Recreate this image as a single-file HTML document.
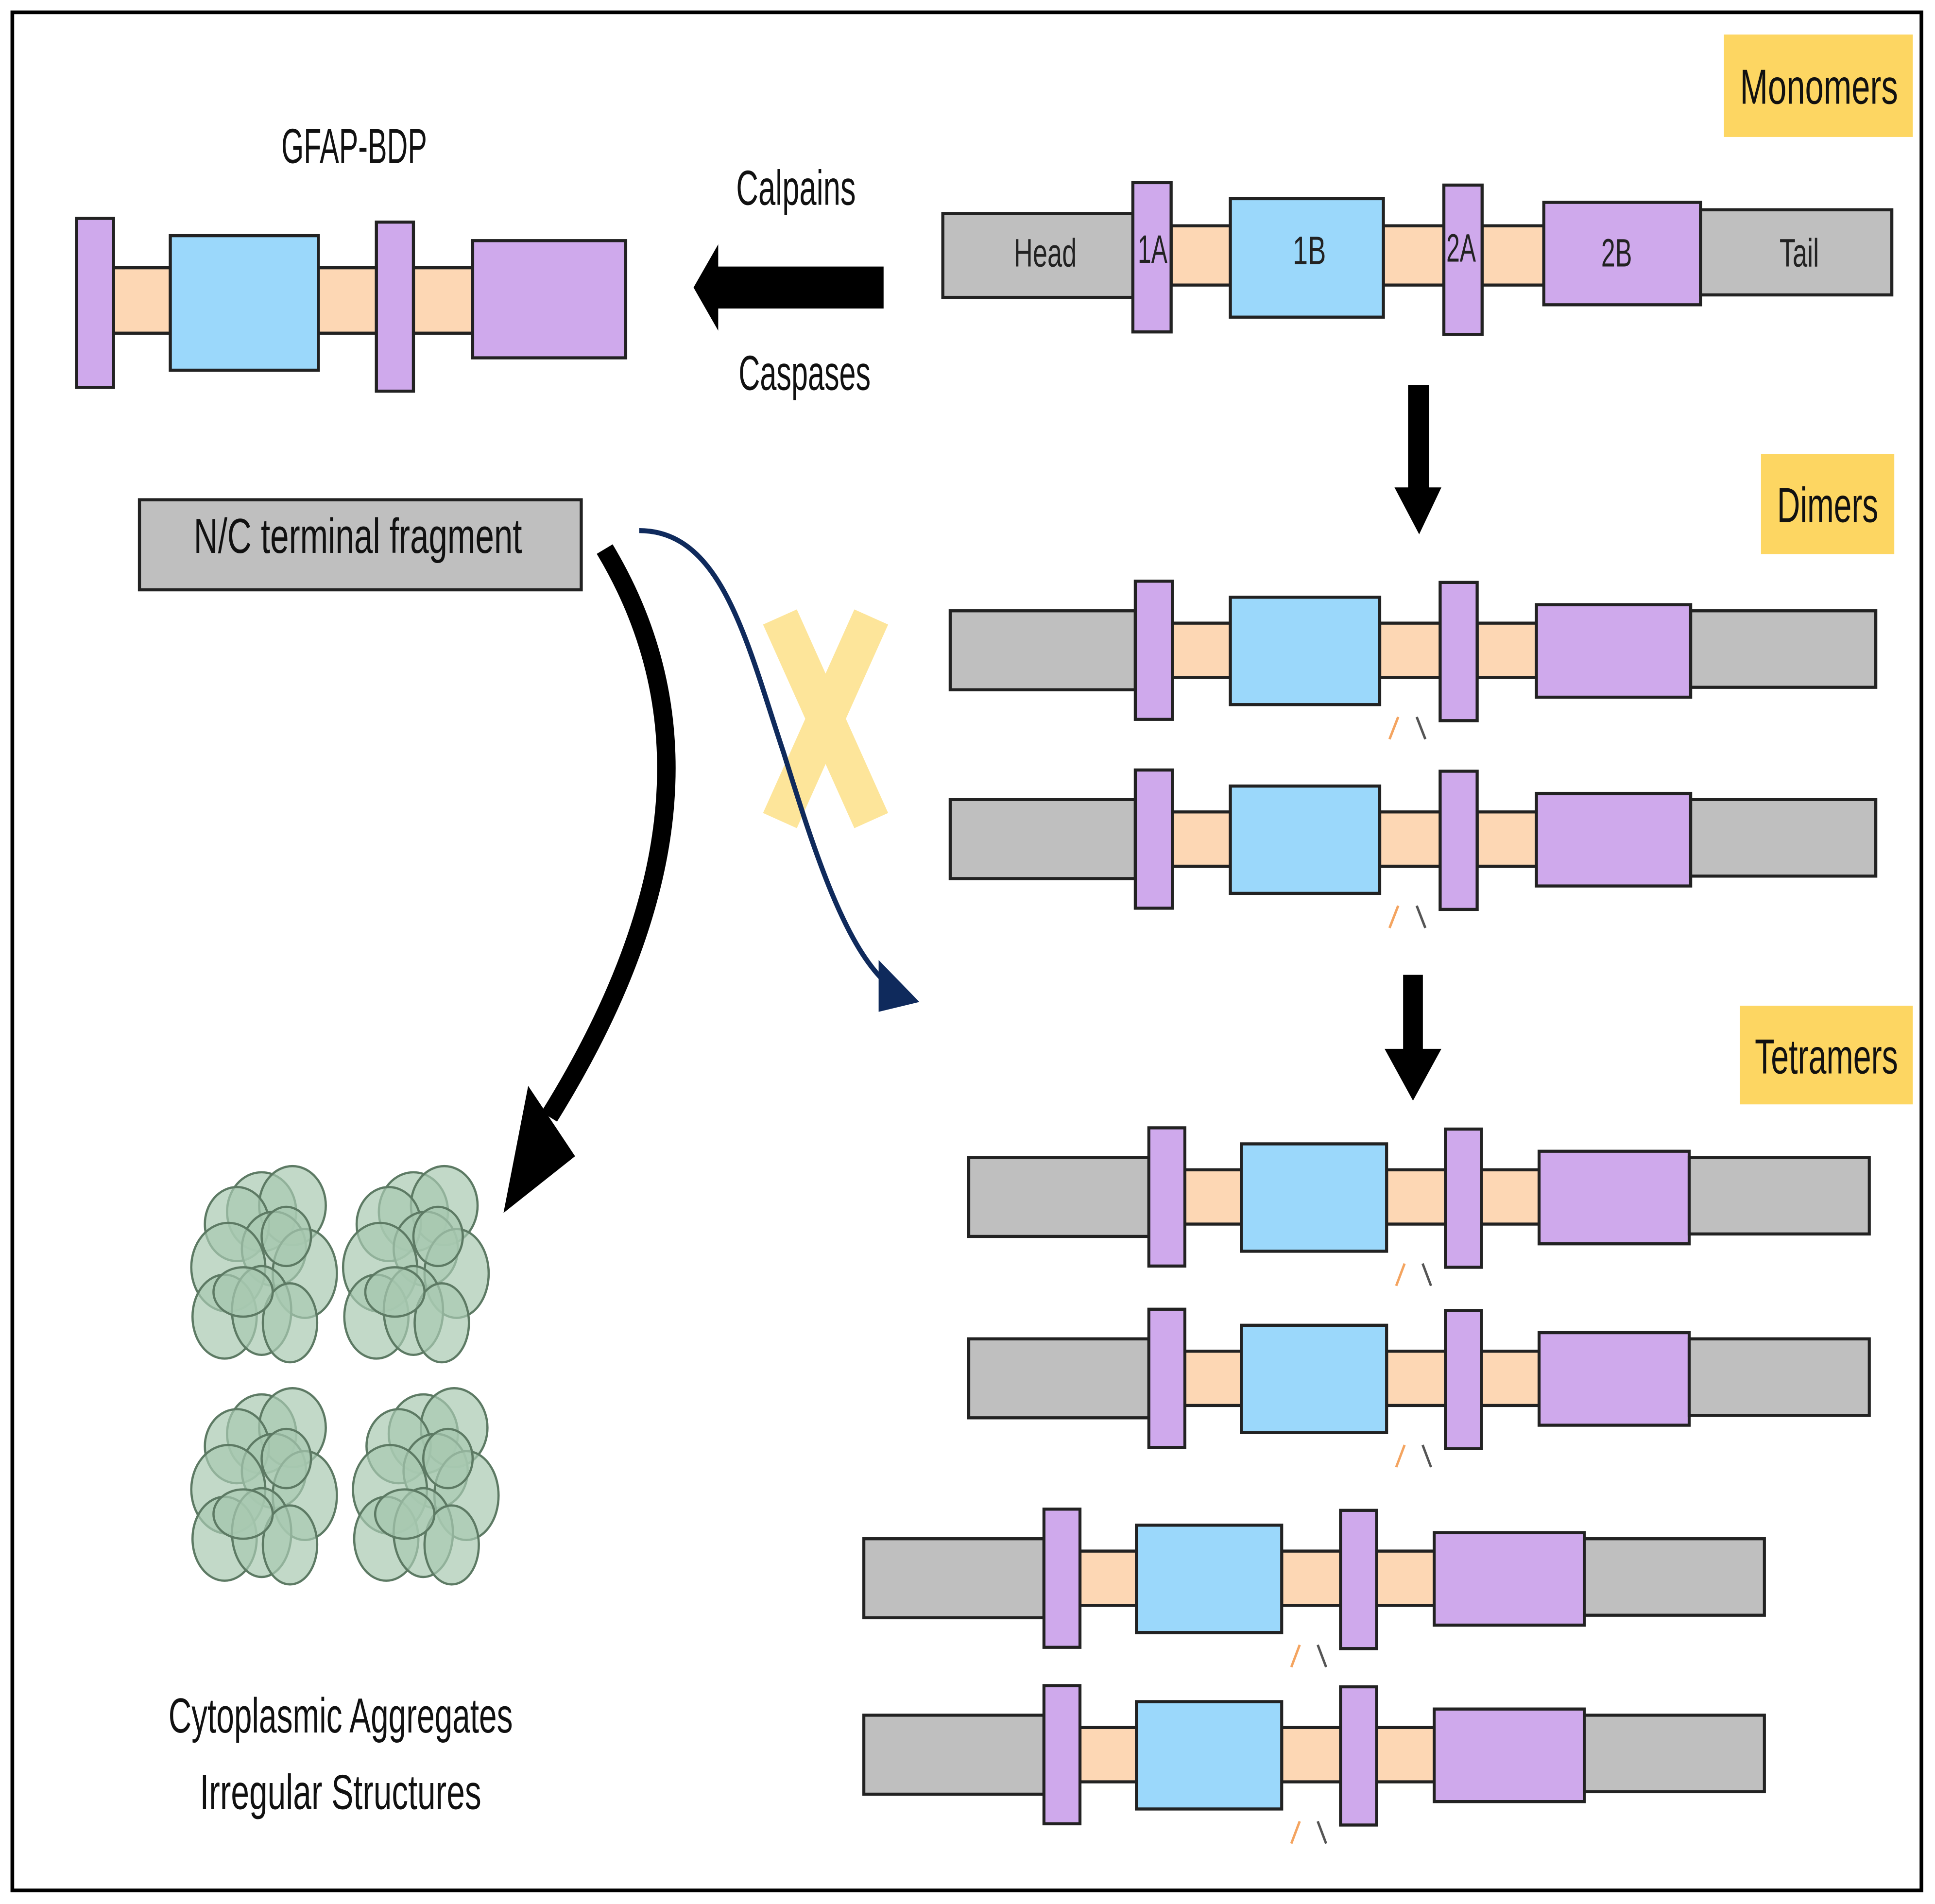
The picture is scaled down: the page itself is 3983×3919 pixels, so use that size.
<!DOCTYPE html>
<html><head><meta charset="utf-8"><style>html,body{margin:0;padding:0;background:#fff}svg{display:block}</style></head>
<body>
<svg width="3983" height="3919" viewBox="0 0 1568 1543" preserveAspectRatio="none" xmlns="http://www.w3.org/2000/svg" font-family="Liberation Sans, sans-serif">
<defs>
<g id="mol" stroke="#222" stroke-width="2.5">
<rect x="0" y="-32" width="150" height="64" fill="#bfbfbf"/>
<rect x="180" y="-22" width="47" height="44" fill="#fdd7b4"/>
<rect x="348" y="-22" width="50" height="44" fill="#fdd7b4"/>
<rect x="427" y="-22" width="48" height="44" fill="#fdd7b4"/>
<rect x="150" y="-56" width="30" height="112" fill="#cfa9ec"/>
<rect x="227" y="-43" width="121" height="87" fill="#9bd8fb"/>
<rect x="397" y="-55" width="30" height="112" fill="#cfa9ec"/>
<rect x="475" y="-37" width="125" height="75" fill="#cfa9ec"/>
<rect x="600" y="-32" width="150" height="62" fill="#bfbfbf"/>
<line x1="356" y1="72" x2="363" y2="54" stroke="#f4a460" stroke-width="2"/>
<line x1="378" y1="54" x2="385" y2="72" stroke="#555" stroke-width="2"/>
</g>
<g id="clu" fill="#a8c9b0" fill-opacity="0.7" stroke="#5d7a64" stroke-width="1.8">
<ellipse cx="-5" cy="-45" rx="28" ry="32"/>
<ellipse cx="20" cy="-50" rx="27" ry="32"/>
<ellipse cx="-25" cy="-35" rx="26" ry="30"/>
<ellipse cx="5" cy="-15" rx="26" ry="30"/>
<ellipse cx="-32" cy="0" rx="30" ry="36"/>
<ellipse cx="30" cy="5" rx="26" ry="36"/>
<ellipse cx="-35" cy="40" rx="26" ry="34"/>
<ellipse cx="-5" cy="35" rx="24" ry="36"/>
<ellipse cx="18" cy="45" rx="22" ry="32"/>
<ellipse cx="-20" cy="20" rx="24" ry="20"/>
<ellipse cx="15" cy="-25" rx="20" ry="24"/>
</g>
</defs>
<rect x="10" y="10" width="1547" height="1522" fill="#fff" stroke="#000" stroke-width="3"/>

<g stroke="#222" stroke-width="2.5">
<rect x="764" y="173" width="154" height="68" fill="#bfbfbf"/>
<rect x="949" y="183" width="48" height="48" fill="#fdd7b4"/>
<rect x="1121" y="183" width="49" height="48" fill="#fdd7b4"/>
<rect x="1201" y="183" width="50" height="48" fill="#fdd7b4"/>
<rect x="918" y="148" width="31" height="121" fill="#cfa9ec"/>
<rect x="997" y="161" width="124" height="96" fill="#9bd8fb"/>
<rect x="1170" y="150" width="31" height="121" fill="#cfa9ec"/>
<rect x="1251" y="164" width="127" height="83" fill="#cfa9ec"/>
<rect x="1378" y="170" width="155" height="69" fill="#bfbfbf"/>
</g>
<g font-size="32" fill="#222" text-anchor="middle">
<text x="847" y="216" textLength="51" lengthAdjust="spacingAndGlyphs">Head</text>
<text x="934" y="213" textLength="24" lengthAdjust="spacingAndGlyphs">1A</text>
<text x="1061" y="214" textLength="27" lengthAdjust="spacingAndGlyphs">1B</text>
<text x="1184" y="212" textLength="24" lengthAdjust="spacingAndGlyphs">2A</text>
<text x="1310" y="216" textLength="25" lengthAdjust="spacingAndGlyphs">2B</text>
<text x="1458" y="216" textLength="32" lengthAdjust="spacingAndGlyphs">Tail</text>
</g>

<use href="#mol" x="770" y="527"/>
<use href="#mol" x="770" y="680"/>
<use href="#mol" transform="translate(785,970) scale(0.973,1)"/>
<use href="#mol" transform="translate(785,1117) scale(0.973,1)"/>
<use href="#mol" transform="translate(700,1279) scale(0.973,1)"/>
<use href="#mol" transform="translate(700,1422) scale(0.973,1)"/>

<g stroke="#222" stroke-width="2.5">
<rect x="92" y="217" width="46" height="53" fill="#fdd7b4"/>
<rect x="258" y="217" width="47" height="53" fill="#fdd7b4"/>
<rect x="335" y="217" width="48" height="53" fill="#fdd7b4"/>
<rect x="62" y="177" width="30" height="137" fill="#cfa9ec"/>
<rect x="138" y="191" width="120" height="109" fill="#9bd8fb"/>
<rect x="305" y="180" width="30" height="137" fill="#cfa9ec"/>
<rect x="383" y="195" width="124" height="95" fill="#cfa9ec"/>
</g>

<rect x="1397" y="28" width="153" height="83" fill="#fdd662"/>
<rect x="1427" y="368" width="108" height="81" fill="#fdd662"/>
<rect x="1410" y="815" width="140" height="80" fill="#fdd662"/>
<g font-size="40" fill="#111" text-anchor="middle">
<text x="1474" y="84" textLength="128" lengthAdjust="spacingAndGlyphs">Monomers</text>
<text x="1481" y="423" textLength="82" lengthAdjust="spacingAndGlyphs">Dimers</text>
<text x="1480" y="870" textLength="116" lengthAdjust="spacingAndGlyphs">Tetramers</text>
<text x="287" y="132" textLength="118" lengthAdjust="spacingAndGlyphs">GFAP-BDP</text>
<text x="645" y="166" textLength="97" lengthAdjust="spacingAndGlyphs">Calpains</text>
<text x="652" y="316" textLength="107" lengthAdjust="spacingAndGlyphs">Caspases</text>
<text x="276" y="1404" textLength="279" lengthAdjust="spacingAndGlyphs">Cytoplasmic Aggregates</text>
<text x="276" y="1466" textLength="228" lengthAdjust="spacingAndGlyphs">Irregular Structures</text>
</g>

<polygon points="716,216 582,216 582,198 562,233 582,268 582,250 716,250" fill="#000"/>
<polygon points="1141,312 1158,312 1158,395 1168,395 1150,433 1130,395 1141,395" fill="#000"/>
<polygon points="1137,790 1153,790 1153,850 1168,850 1145,892 1122,850 1137,850" fill="#000"/>

<rect x="113" y="405" width="358" height="73" fill="#bfbfbf" stroke="#222" stroke-width="2.5"/>
<text x="290" y="448" font-size="40" text-anchor="middle" textLength="266" lengthAdjust="spacingAndGlyphs" fill="#111">N/C terminal fragment</text>

<g stroke="#fde59a" stroke-width="30">
<line x1="632" y1="500" x2="706" y2="665"/>
<line x1="706" y1="500" x2="632" y2="665"/>
</g>

<path d="M490,445 C565,570 560,720 445,905" fill="none" stroke="#000" stroke-width="15"/>
<polygon points="428,880 466,937 408,983" fill="#000"/>

<path d="M518,430 C585,430 605,520 635,610 C660,690 685,770 722,800" fill="none" stroke="#0f2a5c" stroke-width="4"/>
<polygon points="745,812 712,778 712,820" fill="#0f2a5c"/>

<use href="#clu" x="217" y="1027"/>
<use href="#clu" x="340" y="1027"/>
<use href="#clu" x="217" y="1207"/>
<use href="#clu" x="348" y="1207"/>
</svg>
</body></html>
